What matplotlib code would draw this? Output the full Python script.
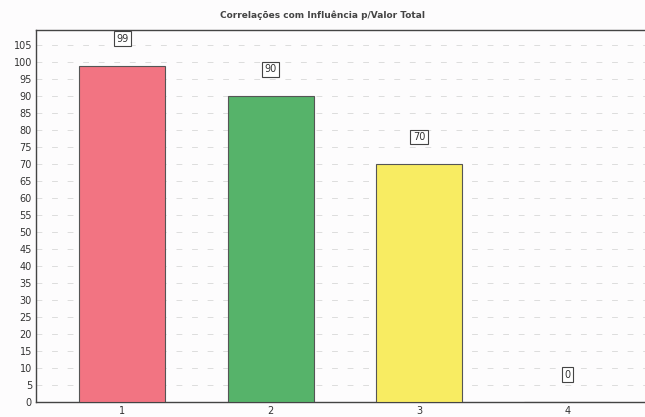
import matplotlib.pyplot as plt

categories = [1, 2, 3, 4]
values = [99, 90, 70, 0]
colors = ["#f27482", "#56b36a", "#f8ec62", "#cccccc"]

fig = plt.figure(figsize=(6.45, 4.17), dpi=100, facecolor="#fdfcfd")
ax = fig.add_axes([0.056, 0.036, 0.95, 0.892])
ax.set_facecolor("#fdfcfd")

ax.bar(categories, values, width=0.58, color=colors, edgecolor="#555555", linewidth=0.8, zorder=3)

for x, v in zip(categories, values):
    ax.text(x, v + 8, str(v), ha="center", va="center", fontsize=7, color="#333333",
            bbox=dict(boxstyle="square,pad=0.25", fc="white", ec="#444444", lw=0.8), zorder=4)

ax.set_xlim(0.42, 4.55)
ax.set_ylim(0, 109.5)
ax.set_yticks(range(0, 106, 5))
ax.set_xticks(categories)
ax.tick_params(axis="both", labelsize=7, length=0, colors="#333333", pad=3)
ax.yaxis.grid(True, linestyle=(0, (6, 10)), color="#dddddd", linewidth=0.7, zorder=0)
for s in ax.spines.values():
    s.set_color("#444444")
    s.set_linewidth(1.0)

fig.suptitle("Correlações com Influência p/Valor Total", y=0.975, fontsize=6.5,
             fontweight="bold", color="#444444")

fig.savefig("out.png", dpi=100, facecolor=fig.get_facecolor())
